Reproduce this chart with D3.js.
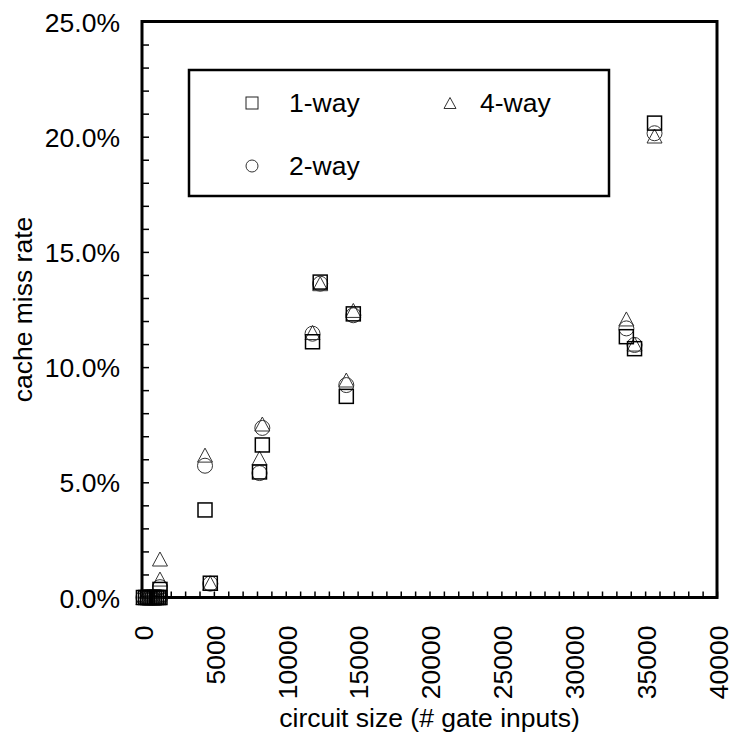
<!DOCTYPE html>
<html>
<head>
<meta charset="utf-8">
<script src="https://cdn.jsdelivr.net/npm/d3@7"></script>
<style>
  html, body { margin: 0; padding: 0; background: #fff; }
  svg { display: block; font-family: "Liberation Sans", Arial, Helvetica, sans-serif; }
</style>
</head>
<body>
<svg id="chart" width="733" height="736"></svg>
<script>
// Circuit size (# gate inputs) per benchmark circuit
const circuitSize = [100, 250, 400, 550, 700, 850, 1000, 1150, 1250, 1250,
                     4383, 4752, 8174, 8370, 11862, 12397, 14213, 14700,
                     33695, 34264, 35655];
// Cache miss rate (%) for each associativity
const oneWay   = [0, 0, 0, 0, 0, 0, 0, 0, 0.35, 0.0,
                  3.80, 0.62, 5.45, 6.62, 11.10, 13.69, 8.73, 12.31,
                  11.32, 10.80, 20.59];
const twoWay   = [0, 0, 0, 0, 0, 0, 0, 0, 0.45, 0.0,
                  5.72, 0.60, 5.40, 7.36, 11.45, 13.62, 9.22, 12.25,
                  11.68, 10.96, 20.15];
const fourWay  = [0, 0, 0, 0, 0, 0, 0, 0, 0.80, 1.67,
                  6.18, 0.62, 6.05, 7.53, 11.50, 13.62, 9.44, 12.46,
                  12.09, 11.00, 20.03];

const xTicksMajor = [0, 5000, 10000, 15000, 20000, 25000, 30000, 35000, 40000];
const yTicksMajor = [0, 5, 10, 15, 20, 25];
const seriesNames = ["1-way", "2-way", "4-way"];

const svg = d3.select("#chart");
const x = d3.scaleLinear().domain([0, 40000]).range([142, 717]);
const y = d3.scaleLinear().domain([0, 25]).range([597.5, 21.5]);
const fontSize = 26.5;

// minor + major ticks on x (pointing inward)
svg.append("g")
  .attr("transform", `translate(0,${y(0)})`)
  .call(d3.axisBottom(x).tickValues(d3.range(0, 40001, 1000)).tickSize(-6).tickFormat(""))
  .call(g => g.select(".domain").remove())
  .call(g => g.selectAll("line").attr("stroke", "#000").attr("stroke-width", 1.5));

// x labels, rotated
svg.append("g")
  .attr("transform", `translate(0,${y(0)})`)
  .call(d3.axisBottom(x).tickValues(xTicksMajor).tickSize(0).tickFormat(d3.format("d")))
  .call(g => g.select(".domain").remove())
  .call(g => g.selectAll("text")
    .attr("font-size", fontSize)
    .attr("font-family", "Liberation Sans, Arial, sans-serif")
    .attr("fill", "#000")
    .attr("text-anchor", "end")
    .attr("transform", "rotate(-90)")
    .attr("x", -28)
    .attr("y", 0)
    .attr("dy", "0.39em"));

// y ticks every 1%, pointing inward
svg.append("g")
  .attr("transform", `translate(${x(0)},0)`)
  .call(d3.axisLeft(y).tickValues(d3.range(0, 25.01, 1)).tickSize(-7).tickFormat(""))
  .call(g => g.select(".domain").remove())
  .call(g => g.selectAll("line").attr("stroke", "#000").attr("stroke-width", 1.5));

// y labels
svg.append("g")
  .attr("transform", `translate(${x(0)},0)`)
  .call(d3.axisLeft(y).tickValues(yTicksMajor).tickSize(0).tickFormat(d => d3.format(".1f")(d) + "%"))
  .call(g => g.select(".domain").remove())
  .call(g => g.selectAll("text")
    .attr("font-size", fontSize)
    .attr("font-family", "Liberation Sans, Arial, sans-serif")
    .attr("fill", "#000")
    .attr("x", -22)
    .attr("dy", "0.36em"));

// plot frame
svg.append("rect")
  .attr("x", x(0)).attr("y", y(25))
  .attr("width", x(40000) - x(0)).attr("height", y(0) - y(25))
  .attr("fill", "none").attr("stroke", "#000").attr("stroke-width", 3);

// axis titles
svg.append("text")
  .attr("x", (x(0) + x(40000)) / 2).attr("y", 727)
  .attr("text-anchor", "middle").attr("font-size", fontSize)
  .text("circuit size (# gate inputs)");
svg.append("text")
  .attr("transform", `translate(32,${(y(0) + y(25)) / 2}) rotate(-90)`)
  .attr("text-anchor", "middle").attr("font-size", fontSize)
  .text("cache miss rate");

// marker drawing helpers
function triPath(cx, cy, w, h) {
  return `M${cx},${cy - h / 2}L${cx + w / 2},${cy + h / 2}L${cx - w / 2},${cy + h / 2}Z`;
}

const pts = circuitSize.map((c, i) => ({ c, a: oneWay[i], b: twoWay[i], d: fourWay[i] }));
const marks = svg.append("g");

// 4-way: triangles
marks.selectAll("path.tri").data(pts).join("path")
  .attr("class", "tri")
  .attr("d", p => triPath(x(p.c), y(p.d), 15, 14))
  .attr("fill", "none").attr("stroke", "#333").attr("stroke-width", 1);

// 2-way: circles
marks.selectAll("circle.cir").data(pts).join("circle")
  .attr("class", "cir")
  .attr("cx", p => x(p.c)).attr("cy", p => y(p.b)).attr("r", 7.5)
  .attr("fill", "none").attr("stroke", "#333").attr("stroke-width", 1);

// 1-way: squares
marks.selectAll("rect.sq").data(pts).join("rect")
  .attr("class", "sq")
  .attr("x", p => x(p.c) - 7).attr("y", p => y(p.a) - 7)
  .attr("width", 14).attr("height", 14)
  .attr("fill", "none").attr("stroke", "#000").attr("stroke-width", 1.5);

// legend
const lg = svg.append("g");
lg.append("rect").attr("x", 189).attr("y", 70).attr("width", 420).attr("height", 126)
  .attr("fill", "#fff").attr("stroke", "#000").attr("stroke-width", 2.5);
const legendItems = [
  { name: seriesNames[0], sx: 252, sy: 103, tx: 289, shape: "sq" },
  { name: seriesNames[1], sx: 252, sy: 166, tx: 289, shape: "cir" },
  { name: seriesNames[2], sx: 450, sy: 103, tx: 480, shape: "tri" }
];
legendItems.forEach(it => {
  if (it.shape === "sq") {
    lg.append("rect").attr("x", it.sx - 6).attr("y", it.sy - 6).attr("width", 12).attr("height", 12)
      .attr("fill", "none").attr("stroke", "#222").attr("stroke-width", 1);
  } else if (it.shape === "cir") {
    lg.append("circle").attr("cx", it.sx).attr("cy", it.sy).attr("r", 6)
      .attr("fill", "none").attr("stroke", "#333").attr("stroke-width", 1);
  } else {
    lg.append("path").attr("d", triPath(it.sx, it.sy, 12, 11))
      .attr("fill", "none").attr("stroke", "#333").attr("stroke-width", 1);
  }
  lg.append("text").attr("x", it.tx).attr("y", it.sy + 9)
    .attr("font-size", fontSize).text(it.name);
});
</script>
</body>
</html>
